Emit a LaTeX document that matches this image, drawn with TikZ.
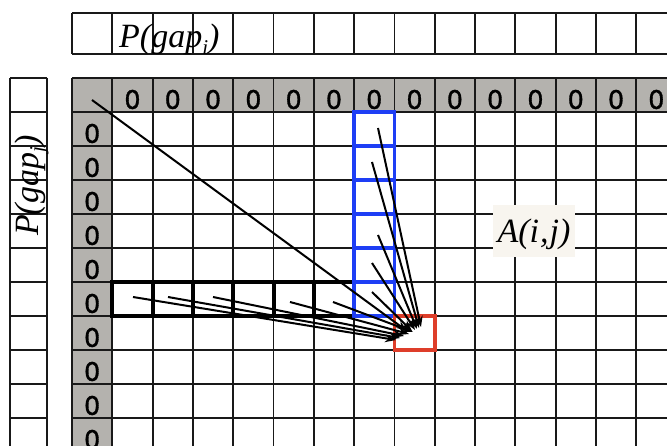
\documentclass[tikz,border=0pt]{standalone}
\usepackage{fontspec}
\setmainfont{Liberation Serif}
\newfontfamily\zerofont[FakeBold=1.2]{DejaVu Sans}
\usetikzlibrary{arrows.meta}
\definecolor{hdrgray}{RGB}{180,178,174}
\definecolor{cellblue}{RGB}{30,62,245}
\definecolor{cellred}{RGB}{222,62,42}
\definecolor{labelbg}{RGB}{248,245,239}
\tikzset{
  gridline/.style={line width=1.8pt, draw=black!90},
  thickrow/.style={line width=4pt, draw=black},
  bluecol/.style={line width=3.6pt, draw=cellblue},
  redcell/.style={line width=3.6pt, draw=cellred},
  zero/.style={font=\zerofont\fontsize{25.5}{25.5}\selectfont, inner sep=0pt},
  biglabel/.style={font=\itshape\fontsize{34}{34}\selectfont, inner sep=0pt},
  dparrow/.style={line width=2pt, -{Stealth[length=11pt,width=8pt]}},
}
\begin{document}
\begin{tikzpicture}[x=1pt,y=-1pt]
\useasboundingbox (0,0) rectangle (667,446);
\fill[white] (0,0) rectangle (667,446);
% gray header fills
\fill[hdrgray] (72,78) rectangle (667,112);
\fill[hdrgray] (72,78) rectangle (112.3,446);
% main grid
\foreach \k in {0,...,14} \draw[gridline] ({72+40.3*\k},78) -- ({72+40.3*\k},446);
\foreach \r in {0,...,10} \draw[gridline] (72,{78+34*\r}) -- (667,{78+34*\r});
% top strip
\draw[gridline] (72,13) -- (667,13);
\draw[gridline] (72,54) -- (667,54);
\foreach \k in {0,...,14} \draw[gridline] ({72+40.3*\k},13) -- ({72+40.3*\k},54);
% left strip
\draw[gridline] (10,78) -- (10,446);
\draw[gridline] (47,78) -- (47,446);
\foreach \r in {0,...,10} \draw[gridline] (10,{78+34*\r}) -- (47,{78+34*\r});
% zeros
\foreach \k in {1,...,14} \node[zero] (h\k) at ({72+40.3*\k+20.15},99.5) {0};
\foreach \r in {1,...,10} \node[zero] (v\r) at (92.15,{78+34*\r+21.5}) {0};
% labels
\node[biglabel, anchor=base west] (pgi) at (119,48) {P(gap\raisebox{-0.18em}{\fontsize{21}{21}\selectfont i})};
\node[biglabel, anchor=base west, rotate=90] (pgj) at (38,236) {P(gap\raisebox{-0.18em}{\fontsize{21}{21}\selectfont j})};
\fill[labelbg] (493,205) rectangle (575,257);
\node[biglabel, anchor=base] (aij) at (534,243) {A(i\kern1pt,\kern1pt j)};
% highlighted cells
\draw[thickrow] (112.3,282) rectangle (354.1,316);
\foreach \k in {2,...,6} \draw[thickrow] ({72+40.3*\k},282) -- ({72+40.3*\k},316);
\draw[bluecol] (354.1,112) rectangle (394.4,316);
\foreach \r in {2,...,6} \draw[bluecol] (354.1,{78+34*\r}) -- (394.4,{78+34*\r});
\draw[redcell] (394.4,316) rectangle (434.7,350);
% arrow end points
\coordinate (r1) at (133,297); \coordinate (re1) at (396,340);
\coordinate (r2) at (168,297); \coordinate (re2) at (400,338);
\coordinate (r3) at (213,297); \coordinate (re3) at (404,336);
\coordinate (r4) at (290,302); \coordinate (re4) at (409,334);
\coordinate (r5) at (333,302); \coordinate (re5) at (413,332);
\coordinate (b1) at (378,128); \coordinate (be1) at (421,327);
\coordinate (b2) at (372,162); \coordinate (be2) at (419,328);
\coordinate (b3) at (378,235); \coordinate (be3) at (417,329);
\coordinate (b4) at (372,263); \coordinate (be4) at (415,330);
\coordinate (b5) at (372,292); \coordinate (be5) at (412,331);
\coordinate (d0) at (92,100); \coordinate (de0) at (407,331);
\foreach \i in {1,...,5} {
  \draw[dparrow] (r\i) -- (re\i);
  \draw[dparrow] (b\i) -- (be\i);
}
\draw[dparrow] (d0) -- (de0);
\end{tikzpicture}
\end{document}
